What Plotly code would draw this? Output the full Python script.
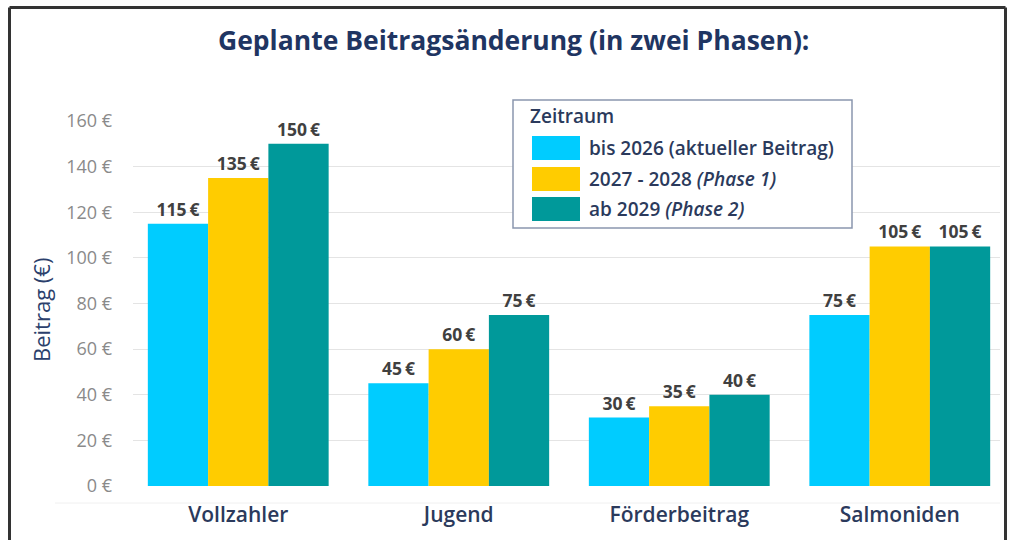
import plotly.graph_objects as go

categories = ["Vollzahler", "Jugend", "Förderbeitrag", "Salmoniden"]
series_names = ["bis 2026 (aktueller Beitrag)", "2027 - 2028 <i>(Phase 1)</i>", "ab 2029 <i>(Phase 2)</i>"]
values_2026 = [115, 45, 30, 75]
values_2027 = [135, 60, 35, 105]
values_2029 = [150, 75, 40, 105]
colors = ["#00CCFF", "#FFCC00", "#00999A"]
y_ticks = [0, 20, 40, 60, 80, 100, 120, 140, 160]
y_tick_labels = [f"{v} €" for v in y_ticks]

W, H = 1011, 540
L, R, T, B = 133, 1000, 121, 486  # plot area in pixels

def px(x):
    return (x - L) / (R - L)

def py(y):
    return (B - y) / (B - T)

TXT = "#2B3A5C"
FONT = "Open Sans"

fig = go.Figure()
for name, vals, col in zip(series_names, [values_2026, values_2027, values_2029], colors):
    fig.add_trace(go.Bar(
        x=list(range(len(categories))), y=vals, name=name, marker_color=col,
        marker_line_width=0,
        text=[f"{v}\u2009€" for v in vals], textposition="outside",
        textfont=dict(family=FONT, size=17.5, color="#404040", weight="bold"),
        cliponaxis=False, showlegend=False,
    ))

shapes = []
annotations = []
# outer frame
for x0, y0, x1, y1 in [(9.5, 7.5, 9.5, 545), (9.5, 7.5, 1005.5, 7.5), (1005.5, 7.5, 1005.5, 545)]:
    shapes.append(dict(type="line", xref="paper", yref="paper", x0=px(x0), y0=py(y0), x1=px(x1), y1=py(y1),
                       line=dict(color="#333333", width=3)))
# faint bottom line
shapes.append(dict(type="line", xref="paper", yref="paper", x0=px(55), y0=py(503), x1=px(1000), y1=py(503),
                   line=dict(color="#F0F0F0", width=1)))
# legend box
shapes.append(dict(type="rect", xref="paper", yref="paper", x0=px(513), y0=py(100), x1=px(852), y1=py(228),
                   line=dict(color="#8A96AE", width=1.5), fillcolor="white"))
annotations.append(dict(xref="paper", yref="paper", x=px(528), y=py(116), text="Zeitraum", showarrow=False,
                        xanchor="left", yanchor="middle", font=dict(family=FONT, size=19, color=TXT, weight=600)))
row_y = [148, 179, 209]
for name, col, ry in zip(series_names, colors, row_y):
    shapes.append(dict(type="rect", xref="paper", yref="paper", x0=px(532), y0=py(ry - 12), x1=px(580), y1=py(ry + 12),
                       line=dict(width=0), fillcolor=col))
    annotations.append(dict(xref="paper", yref="paper", x=px(587), y=py(ry), text=name, showarrow=False,
                            xanchor="left", yanchor="middle", font=dict(family=FONT, size=19, color=TXT, weight=600)))
# y axis title
annotations.append(dict(xref="paper", yref="paper", x=px(41), y=py(310), text="Beitrag (€)", showarrow=False,
                        textangle=-90, xanchor="center", yanchor="middle",
                        font=dict(family=FONT, size=22, color="#2B3F6C")))
# title
annotations.append(dict(xref="paper", yref="paper", x=px(513), y=py(40), text="<b>Geplante Beitragsänderung (in zwei Phasen):</b>",
                        showarrow=False, xanchor="center", yanchor="middle",
                        font=dict(family=FONT, size=26.5, color="#1F3562")))

fig.update_layout(
    width=W, height=H,
    margin=dict(l=L, r=W - R, t=T, b=H - B, pad=0),
    paper_bgcolor="white", plot_bgcolor="white",
    barmode="group", bargap=0.18, bargroupgap=0,
    shapes=shapes, annotations=annotations,
    xaxis=dict(tickmode="array", tickvals=list(range(len(categories))), ticktext=categories,
               range=[-105 / 220, 3 + 100 / 220], showgrid=False, zeroline=False, showline=False,
               ticks="outside", ticklen=10, tickcolor="rgba(0,0,0,0)",
               tickfont=dict(family=FONT, size=21, color=TXT, weight=600)),
    yaxis=dict(range=[0, 160], tickmode="array", tickvals=y_ticks, ticktext=y_tick_labels,
               showgrid=True, gridcolor="#E4E4E4", gridwidth=1, zeroline=False, showline=False,
               ticklabelstandoff=20,
               tickfont=dict(family=FONT, size=18, color="#8A8A8A")),
    font=dict(family=FONT),
)

fig.write_html("out.html", config={"displayModeBar": False},
               post_script="document.body.style.margin='0';document.body.style.overflow='hidden';")
